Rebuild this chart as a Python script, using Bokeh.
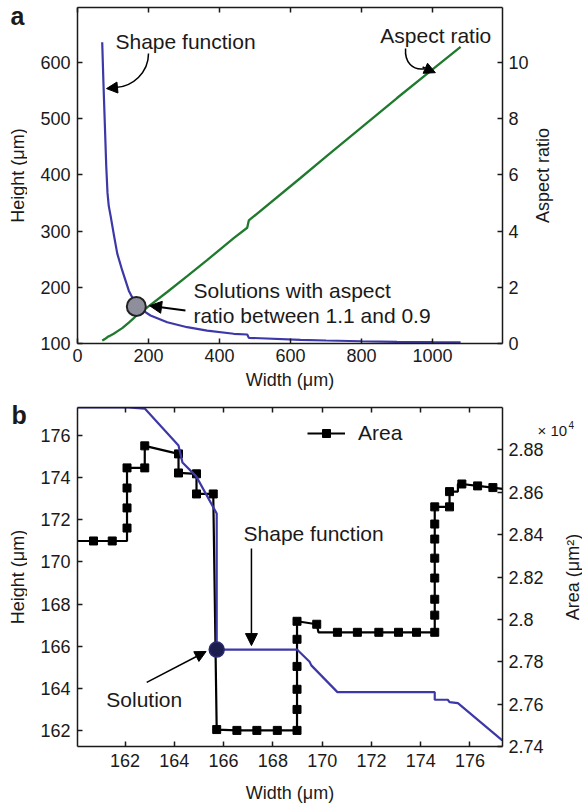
import math
from bokeh.plotting import figure
from bokeh.models import (Range1d, LinearAxis, FixedTicker, Label, Arrow, NormalHead,
                          Legend, LegendItem)
from bokeh.layouts import column, row
from bokeh.embed import file_html
from bokeh.resources import INLINE
from bokeh.core.properties import value

FONT = "Liberation Sans"

# ---------------- Panel a data ----------------
sf_width = [69.6, 73, 77, 81, 84.5, 88, 93, 102, 112, 126, 144.5, 158.6, 165.7, 177.5,
            205.6, 252.7, 309, 365, 440, 478, 482.5, 628, 700, 800, 900, 1000, 1079]
sf_height = [636, 565, 490, 415, 368, 345, 328, 295, 260, 230, 194, 176.5, 165.85, 161.7,
             149.8, 137.9, 129, 123, 117.3, 116, 110.1, 106.6, 105.3, 104, 103, 102.5, 102.2]
aspect_ratio = [0.109, 0.129, 0.157, 0.195, 0.230, 0.255, 0.284, 0.346, 0.431, 0.548, 0.745,
                0.899, 0.999, 1.098, 1.372, 1.833, 2.395, 2.967, 3.751, 4.121, 4.382, 5.891,
                6.648, 7.692, 8.738, 9.756, 10.558]
sol_a_width = [165.7]
sol_a_height = [165.85]
a_x_ticks = [0, 200, 400, 600, 800, 1000]
a_h_ticks = [100, 200, 300, 400, 500, 600]
a_ar_ticks = [0, 2, 4, 6, 8, 10]

# ---------------- Panel b data ----------------
b_sf_width = [160.07, 162.12, 162.80, 164.17, 164.33, 164.89, 165.72, 165.72, 168.98, 169.49,
              169.56, 170.62, 174.57, 174.57, 175.10, 175.17, 175.51, 177.31]
b_sf_height = [177.33, 177.33, 177.28, 175.53, 174.72, 174.06, 172.30, 165.84, 165.84, 165.26,
               165.09, 163.82, 163.82, 163.46, 163.46, 163.35, 163.30, 161.53]
area_line_w = [160.07, 160.72, 161.48, 162.08, 162.08, 162.08, 162.08, 162.08, 162.80, 162.80,
               164.17, 164.17, 164.90, 164.90, 165.58, 165.72, 166.54, 167.35, 168.18, 168.98,
               168.98, 168.98, 168.98, 168.98, 168.98, 169.78, 169.85, 170.62, 171.43, 172.30,
               173.10, 173.83, 174.57, 174.57, 174.57, 174.57, 174.57, 174.57, 174.57, 174.57,
               175.17, 175.17, 175.51, 175.51, 175.67, 176.31, 176.93, 177.32]
area_line_v = [2.8370, 2.8370, 2.8370, 2.8370, 2.8431, 2.8526, 2.8620, 2.8715, 2.8715, 2.8819,
               2.8781, 2.8691, 2.8687, 2.8592, 2.8592, 2.7480, 2.7476, 2.7476, 2.7476, 2.7476,
               2.7575, 2.7670, 2.7778, 2.7906, 2.7991, 2.7977, 2.7939, 2.7939, 2.7939, 2.7939,
               2.7939, 2.7939, 2.7939, 2.8020, 2.8095, 2.8195, 2.8289, 2.8379, 2.8450, 2.8531,
               2.8531, 2.8603, 2.8603, 2.8639, 2.8639, 2.8630, 2.8622, 2.8616]
area_mark_w = [160.72, 161.48, 162.08, 162.08, 162.08, 162.08, 162.80, 162.80, 164.17, 164.17,
               164.90, 164.90, 165.58, 165.72, 166.54, 167.35, 168.18, 168.98, 168.98, 168.98,
               168.98, 168.98, 168.98, 169.78, 170.62, 171.43, 172.30, 173.10, 173.83, 174.57,
               174.57, 174.57, 174.57, 174.57, 174.57, 174.57, 174.57, 175.17, 175.17, 175.67,
               176.31, 176.93]
area_mark_v = [2.8370, 2.8370, 2.8431, 2.8526, 2.8620, 2.8715, 2.8715, 2.8819, 2.8781, 2.8691,
               2.8687, 2.8592, 2.8592, 2.7480, 2.7476, 2.7476, 2.7476, 2.7476, 2.7575, 2.7670,
               2.7778, 2.7906, 2.7991, 2.7977, 2.7939, 2.7939, 2.7939, 2.7939, 2.7939, 2.7939,
               2.8020, 2.8095, 2.8195, 2.8289, 2.8379, 2.8450, 2.8531, 2.8531, 2.8603, 2.8639,
               2.8630, 2.8622]
sol_b_width = [165.72]
sol_b_height = [165.84]
b_w_ticks = [162, 164, 166, 168, 170, 172, 174, 176]
b_h_ticks = [162, 164, 166, 168, 170, 172, 174, 176]
area_ticks = [2.74, 2.76, 2.78, 2.80, 2.82, 2.84, 2.86, 2.88]
area_tick_labels = ["2.74", "2.76", "2.78", "2.8", "2.82", "2.84", "2.86", "2.88"]

BLUE = "#3d38a8"
GREEN = "#1f7a2e"
INK = "#1a1a1a"


def style_axis(ax, ticks, show_labels=True, standoff=6):
    ax.ticker = FixedTicker(ticks=ticks)
    ax.major_tick_in = 5
    ax.major_tick_out = 0
    ax.minor_tick_line_color = None
    ax.axis_line_color = INK
    ax.axis_line_width = 1.5
    ax.major_tick_line_color = INK
    ax.major_tick_line_width = 1.5
    ax.major_label_text_font = FONT
    ax.major_label_text_font_size = "18px"
    ax.major_label_text_color = INK
    ax.major_label_standoff = standoff
    ax.axis_label_text_font = FONT
    ax.axis_label_text_font_size = "18px"
    ax.axis_label_text_font_style = "normal"
    ax.axis_label_text_color = INK
    if not show_labels:
        ax.major_label_text_font_size = "1px"
        ax.major_label_text_color = None
        ax.major_label_standoff = 0


def txt(p, x, y, text, size="21px"):
    p.add_layout(Label(x=x, y=y, text=text, text_font=FONT, text_font_size=size,
                       text_align="left", text_baseline="middle", text_color=INK))


def arrow(p, x0, y0, x1, y1, size=11, width=1.5):
    p.add_layout(Arrow(end=NormalHead(size=size, fill_color="black", line_color="black"),
                       x_start=x0, y_start=y0, x_end=x1, y_end=y1,
                       line_color="black", line_width=width))


# ================= Panel a =================
pa = figure(width=555, height=397, x_range=Range1d(0, 1197), y_range=Range1d(100, 698),
            output_backend="svg", toolbar_location=None,
            min_border_left=50, min_border_right=80, min_border_top=7, min_border_bottom=54)
pa.extra_y_ranges = {"ar": Range1d(0, 11.96)}
pa.add_layout(LinearAxis(y_range_name="ar"), "right")
pa.add_layout(LinearAxis(), "above")
pa.xgrid.grid_line_color = None
pa.ygrid.grid_line_color = None
pa.outline_line_color = None

style_axis(pa.below[0], a_x_ticks, standoff=5)
style_axis(pa.left[0], a_h_ticks, standoff=7)
style_axis(pa.right[0], a_ar_ticks, standoff=6)
style_axis(pa.above[0], a_x_ticks, show_labels=False)
pa.below[0].axis_label = "Width (μm)"
pa.below[0].axis_label_standoff = 5

pa.line(sf_width, aspect_ratio, line_color=GREEN, line_width=2.3, y_range_name="ar")
pa.line(sf_width, sf_height, line_color=BLUE, line_width=2.2)
pa.scatter(sol_a_width, sol_a_height, marker="circle", size=19, fill_color="#8e8e9c",
           line_color="#222222", line_width=2)

txt(pa, 107, 637, "Shape function")
pa.bezier(x0=[200], y0=[616], x1=[107], y1=[555.5], cx0=[200], cy0=[582], cx1=[155], cy1=[557],
          line_color="black", line_width=1.5)
arrow(pa, 112, 555.5, 81.7, 553.7, size=11)

txt(pa, 853, 648, "Aspect ratio")
pa.bezier(x0=[924], y0=[625], x1=[977], y1=[589], cx0=[921], cy0=[600], cx1=[944], cy1=[586],
          line_color="black", line_width=1.5)
arrow(pa, 972, 592, 1008, 582, size=11)

txt(pa, 327, 194, "Solutions with aspect")
txt(pa, 327, 150, "ratio between 1.1 and 0.9")
arrow(pa, 304, 158.7, 203, 167.3, size=12, width=2)

# ================= Panel b =================
pb = figure(width=555, height=408, x_range=Range1d(160.07, 177.32), y_range=Range1d(161.24, 177.33),
            output_backend="svg", toolbar_location=None,
            min_border_left=50, min_border_right=75, min_border_top=10, min_border_bottom=59)
pb.extra_y_ranges = {"area": Range1d(2.74, 2.90)}
pb.add_layout(LinearAxis(y_range_name="area"), "right")
pb.add_layout(LinearAxis(), "above")
pb.xgrid.grid_line_color = None
pb.ygrid.grid_line_color = None
pb.outline_line_color = None

style_axis(pb.below[0], b_w_ticks, standoff=7)
style_axis(pb.left[0], b_h_ticks, standoff=7)
style_axis(pb.right[0], area_ticks, standoff=6)
style_axis(pb.above[0], b_w_ticks, show_labels=False)
pb.right[0].major_label_overrides = {t: l for t, l in zip(area_ticks, area_tick_labels)}
pb.below[0].axis_label = "Width (μm)"
pb.below[0].axis_label_standoff = 13

r_line = pb.line(area_line_w, area_line_v, line_color="black", line_width=2.2, y_range_name="area")
r_mark = pb.scatter(area_mark_w, area_mark_v, marker="square", size=8, fill_color="black",
                    line_color="black", y_range_name="area")
pb.line(b_sf_width, b_sf_height, line_color=BLUE, line_width=2.2)
pb.scatter(sol_b_width, sol_b_height, marker="circle", size=15, fill_color="#1c1c4e",
           line_color="#2a2a70", line_width=1.5)

legend = Legend(items=[LegendItem(label="Area", renderers=[r_line, r_mark])],
                location=(230, 301), glyph_width=38, glyph_height=20, label_standoff=13,
                padding=0, margin=0, border_line_color=None, background_fill_alpha=0,
                label_text_font=FONT, label_text_font_size="21px", label_text_color=INK)
pb.add_layout(legend)

txt(pb, 166.81, 171.35, "Shape function")
arrow(pb, 167.13, 170.64, 167.13, 166.03, size=12)
txt(pb, 161.24, 163.47, "Solution")
arrow(pb, 162.88, 164.28, 165.29, 165.75, size=11)

# ================= Left strip: panel letters and left axis titles =================
strip = figure(width=27, height=805, x_range=Range1d(0, 27), y_range=Range1d(805, 0),
               output_backend="svg", toolbar_location=None, x_axis_location=None,
               y_axis_location=None, min_border=0, outline_line_color=None)
strip.xgrid.grid_line_color = None
strip.ygrid.grid_line_color = None
strip.text(x=[10, 11], y=[15, 414], text=["a", "b"], text_font=value(FONT),
           text_font_size="25px", text_font_style="bold", text_align="left",
           text_baseline="middle", text_color=INK)
strip.text(x=[17, 17], y=[175, 576.5], text=["Height (μm)", "Height (μm)"], angle=math.pi / 2,
           text_font=value(FONT), text_font_size="18px", text_align="center",
           text_baseline="middle", text_color=INK)

# ====== Right strip (transparent, laid over the right margin): right axis titles, exponent ======
rstrip = figure(width=55, height=805, x_range=Range1d(0, 55), y_range=Range1d(805, 0),
                output_backend="svg", toolbar_location=None, x_axis_location=None,
                y_axis_location=None, min_border=0, outline_line_color=None,
                background_fill_color=None, border_fill_color=None,
                styles={"margin-left": "-55px"})
rstrip.xgrid.grid_line_color = None
rstrip.ygrid.grid_line_color = None
rstrip.text(x=[15, 45], y=[175, 576.5], text=["Aspect ratio", "Area (μm²)"], angle=math.pi / 2,
            text_font=value(FONT), text_font_size="18px", text_align="center",
            text_baseline="middle", text_color=INK)
rstrip.text(x=[10], y=[430], text=["× 10"], text_font=value(FONT), text_font_size="15px",
            text_align="left", text_baseline="middle", text_color=INK)
rstrip.text(x=[41], y=[424], text=["4"], text_font=value(FONT), text_font_size="10px",
            text_align="left", text_baseline="middle", text_color=INK)

layout = row(strip, column(pa, pb, spacing=0), rstrip, spacing=0)
open("out.html", "w").write(file_html(layout, INLINE))
